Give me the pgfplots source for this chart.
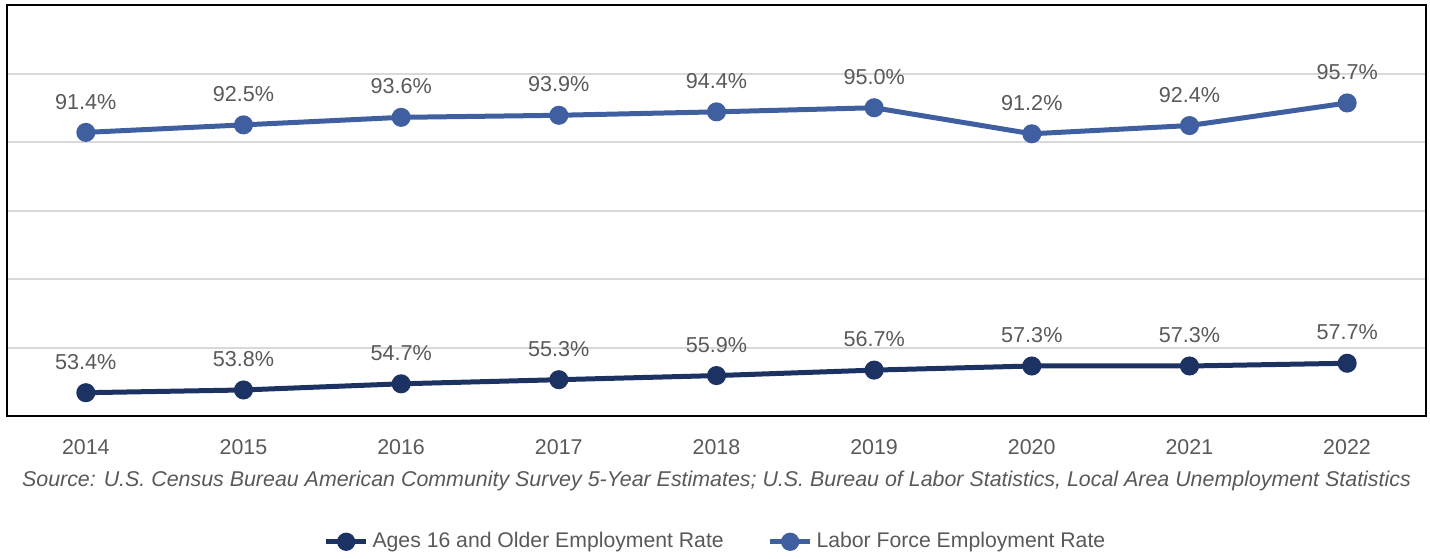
\documentclass[border=0pt]{standalone}
\usepackage{pgfplots}
\pgfplotsset{compat=1.18}
\usepackage{fontspec}
\setmainfont{Liberation Sans}
\definecolor{navy}{HTML}{1C3263}
\definecolor{lblue}{HTML}{3F5FA0}
\definecolor{txtgrey}{HTML}{595959}
\definecolor{gridgrey}{HTML}{D9D9D9}
\begin{document}
\begin{tikzpicture}
\begin{axis}[
  scale only axis,
  width=709.5pt, height=205.5pt,
  xmin=2013.5, xmax=2022.5,
  ymin=50, ymax=110,
  xtick={2014,...,2022},
  xticklabel style={/pgf/number format/1000 sep={}, font=\fontsize{10.7}{12}\selectfont, text=txtgrey},
  /pgf/number format/assume math mode=true,
  ytick={60,70,80,90,100},
  yticklabels={},
  yticklabel style={overlay},
  ymajorgrids,
  major grid style={gridgrey, line width=1pt},
  major tick length=0pt,
  xtick pos=bottom,
  axis line style={black, line width=1pt},
  xticklabel shift=8pt,
  legend style={at={(0.5,-0.306)}, anchor=center, draw=none, legend columns=2,
    font=\fontsize{10.6}{12}\selectfont, text=txtgrey,
    /tikz/every even column/.append style={column sep=20pt}},
  legend image code/.code={
    \draw[#1, mark=none] (0cm,0cm) -- (0.7cm,0cm);
    \fill[#1] (0.35cm,0cm) circle (3.3pt);
  },
  nodes near coords={\pgfmathprintnumber[fixed,fixed zerofill,precision=1]{\pgfplotspointmeta}\%},
  nodes near coords style={font=\fontsize{10.8}{12}\selectfont, text=txtgrey, anchor=south, yshift=7pt},
  point meta=explicit,
  clip=false,
]
\addplot[navy, line width=2.5pt, mark=*, mark size=3.5pt, mark options={fill=navy, draw=navy}] table[meta=y] {
x y
2014 53.4
2015 53.8
2016 54.7
2017 55.3
2018 55.9
2019 56.7
2020 57.3
2021 57.3
2022 57.7
};
\addlegendentry{Ages 16 and Older Employment Rate}
\addplot[lblue, line width=2.5pt, mark=*, mark size=3.5pt, mark options={fill=lblue, draw=lblue}] table[meta=y] {
x y
2014 91.4
2015 92.5
2016 93.6
2017 93.9
2018 94.4
2019 95.0
2020 91.2
2021 92.4
2022 95.7
};
\addlegendentry{Labor Force Employment Rate}
\node[font=\fontsize{10.7}{12}\selectfont\itshape, text=txtgrey] at ([yshift=-32.5pt]rel axis cs:0.5,0) {Source: U.S. Census Bureau American Community Survey 5-Year Estimates; U.S. Bureau of Labor Statistics, Local Area Unemployment Statistics};
\path ([xshift=-3.5pt, yshift=2.5pt]rel axis cs:0,1) ([xshift=2pt]rel axis cs:1,1);
\end{axis}
\end{tikzpicture}
\end{document}
